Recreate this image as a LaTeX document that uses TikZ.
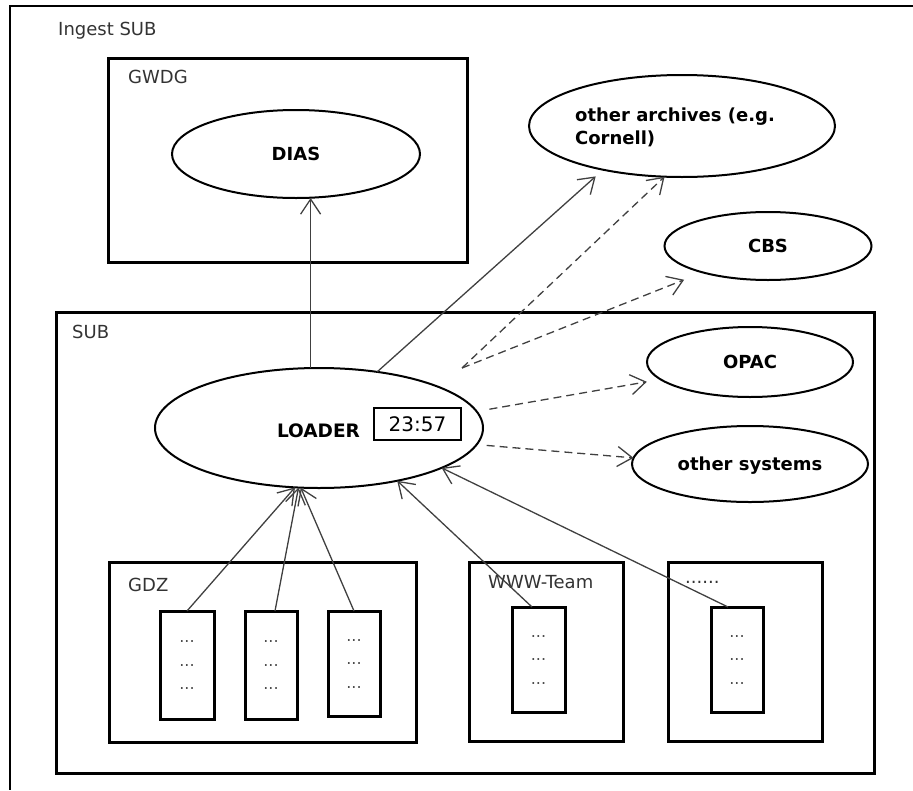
\documentclass[tikz,border=0pt]{standalone}
\usepackage{fontspec}
\setmainfont{DejaVu Sans}
\usetikzlibrary{shapes.geometric,arrows.meta}
\begin{document}
\begin{tikzpicture}[x=1pt,y=-1pt,
  frame/.style={draw=black,line width=2.6pt},
  boxnode/.style={draw=black,line width=3pt,rectangle,inner sep=0pt,outer sep=0pt},
  ell/.style={draw=black,line width=2pt,ellipse,inner sep=0pt,outer sep=0pt,
    font=\fontsize{18}{23}\selectfont\bfseries,text depth=0pt},
  lbl/.style={anchor=base west,inner sep=0pt,font=\fontsize{18}{22}\selectfont,text=black!80},
  conn/.style={draw=black!75,line width=1.3pt,-{Straight Barb[length=15pt,width=20pt]}},
  dconn/.style={conn,dash pattern=on 8pt off 5pt},
  dots/.style={font=\fontsize{16}{23.5}\selectfont,text=black!70,align=center}
]
\useasboundingbox (0,0) rectangle (913,790);

% outer frame (cropped)
\draw[frame] (913,6) -- (10,6) -- (10,790);
\node[lbl] (ingestlbl) at (58,35) {Ingest SUB};

% GWDG
\node[boxnode,minimum width=359pt,minimum height=204pt] (gwdg) at (287.5,160) {};
\node[lbl] (gwdglbl) at (128,83) {GWDG};
\node[ell,minimum width=248pt,minimum height=88pt] (dias) at (296,154) {DIAS};

% SUB
\node[boxnode,minimum width=818pt,minimum height=461pt] (sub) at (465,542.5) {};
\node[lbl] (sublbl) at (72,338) {SUB};

% external ellipses
\node[ell,minimum width=306pt,minimum height=102pt,align=left] (archives) at (682,126) {other archives (e.g.\hspace*{14pt}\\Cornell)};
\node[ell,minimum width=207pt,minimum height=68pt] (cbs) at (768,246) {CBS};
\node[ell,minimum width=206pt,minimum height=70pt] (opac) at (750,362) {OPAC};
\node[ell,minimum width=236pt,minimum height=76pt] (othersys) at (750,464) {other systems};

% loader
\node[ell,minimum width=328pt,minimum height=120pt] (loader) at (319,428) {};
\node[anchor=base,inner sep=0pt,font=\fontsize{18.5}{22}\selectfont\bfseries] (loadertxt) at (318.5,437) {LOADER};
\node[draw=black,line width=2pt,inner sep=0pt,outer sep=0pt,minimum width=87pt,minimum height=32pt,
  font=\fontsize{20}{20}\selectfont] (clock) at (417.5,424) {23:57};

% source groups
\node[boxnode,minimum width=307pt,minimum height=180pt] (gdz) at (262.5,652) {};
\node[lbl] (gdzlbl) at (128,591) {GDZ};
\node[boxnode,dots,minimum width=54pt,minimum height=108pt] (g1) at (187,665) {...\\...\\...};
\node[boxnode,dots,minimum width=52pt,minimum height=108pt] (g2) at (271,665) {...\\...\\...};
\node[boxnode,dots,minimum width=52pt,minimum height=105pt] (g3) at (354,663.5) {...\\...\\...};

\node[boxnode,minimum width=154pt,minimum height=179pt] (www) at (546,651.5) {};
\node[lbl] (wwwlbl) at (488,588) {WWW-Team};
\node[boxnode,dots,minimum width=53pt,minimum height=105pt] (w1) at (538.5,659.5) {...\\...\\...};

\node[boxnode,minimum width=154pt,minimum height=179pt] (more) at (745,651.5) {};
\node[lbl] (morelbl) at (685,583) {......};
\node[boxnode,dots,minimum width=52pt,minimum height=105pt] (m1) at (737,659.5) {...\\...\\...};

% connectors
\coordinate (fork) at (462,368);
\draw[conn] (loader.98.5) -- (loader.98.5 |- dias.south);
\draw[conn,shorten >=10pt] (loader.44.7) -- (archives.209.4);
\draw[dconn] (fork) -- (archives.251.5);
\draw[dconn,shorten >=20pt] (fork) -- (cbs.202.2);
\draw[dconn,shorten <=13pt,shorten >=14pt] (loader.6.5) -- (opac.191.2);
\draw[dconn,shorten <=10pt] (loader.354.9) -- (othersys.177.1);

\draw[conn] (g1.north) -- (loader.248);
\draw[conn] ([xshift=4pt]g2.north) -- (loader.251.4);
\draw[conn] (g3.north) -- (loader.253.2);
\draw[conn] ([xshift=-6.5pt]w1.north) -- (loader.326.3);
\draw[conn] ([xshift=-9pt]m1.north) -- (loader.342.4);
\end{tikzpicture}
\end{document}
